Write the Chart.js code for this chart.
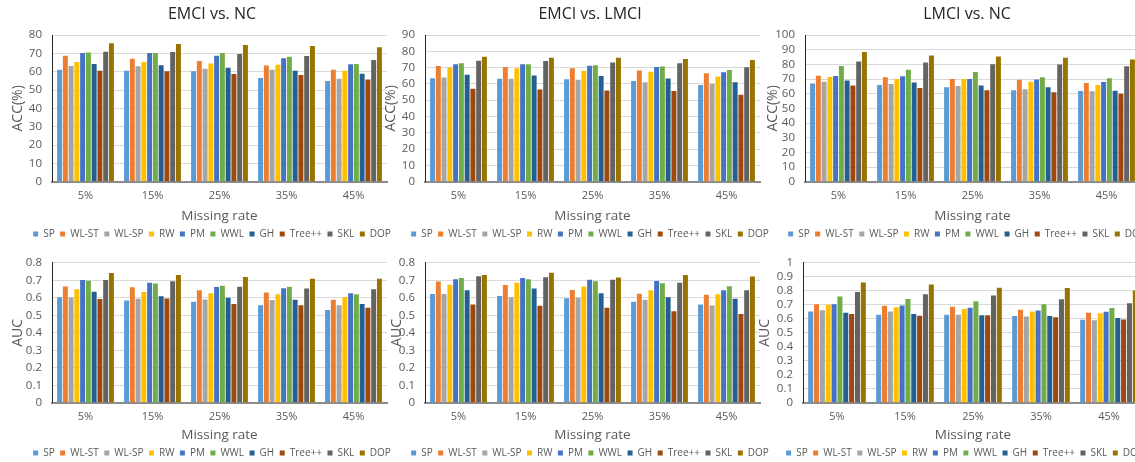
<!DOCTYPE html>
<html>
<head>
<meta charset="utf-8">
<title>Missing rate results</title>
<script src="https://cdn.jsdelivr.net/npm/chart.js@4.4.1/dist/chart.umd.min.js"></script>
<style>
    html, body { margin: 0; padding: 0; background: #ffffff; }
    #page { position: relative; width: 1135px; height: 462px; overflow: hidden; background: #ffffff; }
    #page canvas { position: absolute; }
</style>
</head>
<body>
<div id="page"></div>
<script>
// ---- data ----
const missingRates = ['5%', '15%', '25%', '35%', '45%'];
const methods = ['SP', 'WL-ST', 'WL-SP', 'RW', 'PM', 'WWL', 'GH', 'Tree++', 'SKL', 'DOP'];
const methodColors = ['#5B9BD5', '#ED7D31', '#A5A5A5', '#FFC000', '#4472C4',
                      '#70AD47', '#255E91', '#9E480E', '#636363', '#997300'];

// one row per missing rate, one value per method (same order as `methods`)
const accEmciNc = [
    [61.1, 68.7, 63.1, 65.3, 70.2, 70.5, 64.2, 60.5, 70.9, 75.5],
    [60.5, 67.1, 62.9, 65.3, 70.2, 70.2, 63.5, 60.2, 70.7, 75.1],
    [60.2, 65.8, 61.6, 64.4, 68.7, 70.2, 62.2, 58.7, 69.6, 74.5],
    [56.5, 63.3, 61.1, 63.8, 67.3, 68.2, 60.5, 58.2, 68.5, 74.0],
    [54.9, 61.1, 56.2, 60.5, 64.0, 64.2, 58.9, 55.8, 66.4, 73.3]
];
const accEmciLmci = [
    [63.5, 71.0, 64.0, 70.0, 72.1, 72.7, 65.6, 57.0, 74.2, 76.7],
    [63.1, 70.4, 63.1, 69.6, 72.1, 72.1, 65.2, 56.6, 74.0, 76.1],
    [62.9, 69.6, 62.5, 68.0, 71.1, 71.5, 64.8, 56.0, 73.1, 76.1],
    [61.8, 68.2, 61.0, 67.4, 70.4, 70.6, 63.3, 55.6, 72.7, 75.2],
    [59.4, 66.6, 60.0, 64.6, 67.2, 68.6, 61.0, 53.3, 70.2, 74.6]
];
const accLmciNc = [
    [67.0, 72.3, 68.2, 71.4, 72.0, 78.8, 69.0, 65.5, 82.0, 88.4],
    [66.0, 71.2, 66.6, 70.0, 71.8, 76.3, 67.7, 63.9, 81.3, 86.1],
    [64.4, 70.0, 65.3, 70.0, 70.0, 74.8, 65.6, 62.4, 80.1, 85.4],
    [62.4, 69.5, 63.0, 68.1, 69.7, 71.2, 64.4, 61.0, 79.9, 84.5],
    [61.8, 67.3, 61.6, 66.0, 68.0, 70.5, 62.0, 60.0, 78.7, 83.3]
];
const aucEmciNc = [
    [0.604, 0.665, 0.602, 0.649, 0.702, 0.698, 0.635, 0.593, 0.702, 0.742],
    [0.585, 0.660, 0.595, 0.633, 0.687, 0.682, 0.609, 0.596, 0.695, 0.731],
    [0.578, 0.644, 0.591, 0.626, 0.662, 0.669, 0.600, 0.565, 0.664, 0.720],
    [0.558, 0.631, 0.587, 0.620, 0.655, 0.664, 0.589, 0.558, 0.653, 0.709],
    [0.531, 0.589, 0.558, 0.605, 0.626, 0.620, 0.565, 0.544, 0.649, 0.710]
];
const aucEmciLmci = [
    [0.622, 0.693, 0.622, 0.675, 0.707, 0.713, 0.644, 0.562, 0.724, 0.731],
    [0.611, 0.673, 0.604, 0.687, 0.713, 0.707, 0.653, 0.555, 0.718, 0.744],
    [0.598, 0.645, 0.600, 0.665, 0.704, 0.695, 0.627, 0.544, 0.704, 0.716],
    [0.578, 0.624, 0.589, 0.644, 0.696, 0.684, 0.604, 0.524, 0.687, 0.731],
    [0.562, 0.618, 0.556, 0.620, 0.644, 0.667, 0.595, 0.507, 0.644, 0.722]
];
const aucLmciNc = [
    [0.652, 0.705, 0.662, 0.700, 0.705, 0.760, 0.643, 0.634, 0.792, 0.860],
    [0.630, 0.694, 0.652, 0.682, 0.696, 0.741, 0.634, 0.622, 0.776, 0.845],
    [0.630, 0.687, 0.630, 0.671, 0.680, 0.726, 0.625, 0.625, 0.767, 0.822],
    [0.620, 0.664, 0.616, 0.653, 0.660, 0.705, 0.620, 0.611, 0.740, 0.820],
    [0.594, 0.643, 0.589, 0.640, 0.650, 0.677, 0.605, 0.596, 0.712, 0.803]
];

// y axis ranges: [max, step]
const accAxes = [[80, 10], [90, 10], [100, 10]];
const aucAxes = [[0.8, 0.1], [0.8, 0.1], [1, 0.1]];

// ---- layout (pixels in the 1135x462 page) ----
const LEGEND_HALF = 205;          // half width of the legend/title box
const TEXT_GREY = '#595959';

const panels = [
    { title: 'EMCI vs. NC',   yTitle: 'ACC(%)', rows: accEmciNc,   axis: accAxes[0], top: true,  axisX: 52,  plotRight: 387,  center: 212, yTitleX: 18 },
    { title: 'EMCI vs. LMCI', yTitle: 'ACC(%)', rows: accEmciLmci, axis: accAxes[1], top: true,  axisX: 425, plotRight: 760,  center: 590, yTitleX: 391 },
    { title: 'LMCI vs. NC',   yTitle: 'ACC(%)', rows: accLmciNc,   axis: accAxes[2], top: true,  axisX: 805, plotRight: 1140, center: 967, yTitleX: 773 },
    { title: null,            yTitle: 'AUC',    rows: aucEmciNc,   axis: aucAxes[0], top: false, axisX: 52,  plotRight: 387,  center: 212, yTitleX: 18 },
    { title: null,            yTitle: 'AUC',    rows: aucEmciLmci, axis: aucAxes[1], top: false, axisX: 425, plotRight: 760,  center: 590, yTitleX: 397 },
    { title: null,            yTitle: 'AUC',    rows: aucLmciNc,   axis: aucAxes[2], top: false, axisX: 803, plotRight: 1143, center: 965, yTitleX: 765 }
];

Chart.defaults.font.family = "'Open Sans', 'Noto Sans', sans-serif";
Chart.defaults.color = TEXT_GREY;

/**
 * Build one bar chart panel
 */
function buildPanel(p) {
    const boxLeft = p.center - LEGEND_HALF;
    const boxRight = p.center + LEGEND_HALF;
    const canvasLeft = Math.min(p.axisX - 52, boxLeft);

    const canvas = document.createElement('canvas');
    canvas.width = boxRight - canvasLeft;
    canvas.height = p.top ? 249 : 222;
    canvas.style.left = canvasLeft + 'px';
    canvas.style.top = (p.top ? 0 : 246) + 'px';
    document.getElementById('page').appendChild(canvas);

    const datasets = methods.map(function(name, i) {
        return {
            label: name,
            data: p.rows.map(function(row) { return row[i]; }),
            backgroundColor: methodColors[i],
            borderWidth: 0,
            barPercentage: 0.86,
            categoryPercentage: 0.86
        };
    });

    const yTitleSize = 14;
    const xHeight = p.top ? 41.8 : 39.8;

    return new Chart(canvas, {
        type: 'bar',
        data: { labels: missingRates, datasets: datasets },
        options: {
            responsive: false,
            animation: false,
            layout: {
                padding: { left: boxLeft - canvasLeft, right: 0, top: p.top ? 0 : 10.7, bottom: 0 }
            },
            plugins: {
                title: {
                    display: !!p.title,
                    text: p.title || '',
                    color: '#262626',
                    font: { size: 16, weight: 'normal' },
                    padding: { top: 5, bottom: 10.8 }
                },
                legend: {
                    position: 'bottom',
                    labels: {
                        boxWidth: 5,
                        boxHeight: 5,
                        padding: 5.5,
                        color: TEXT_GREY,
                        font: { size: 10 }
                    }
                },
                tooltip: { enabled: false }
            },
            scales: {
                x: {
                    grid: { display: false, drawTicks: false },
                    border: { display: true, color: '#8c8c8c', width: 2 },
                    ticks: { padding: 7.7, color: TEXT_GREY, font: { size: 11 } },
                    title: {
                        display: true,
                        text: 'Missing rate',
                        color: TEXT_GREY,
                        font: { size: 13.5 },
                        padding: { top: 0, bottom: -0.6 }
                    },
                    afterFit: function(scale) { scale.height = xHeight; }
                },
                y: {
                    min: 0,
                    max: p.axis[0],
                    ticks: {
                        stepSize: p.axis[1],
                        autoSkip: false,
                        padding: 10,
                        color: TEXT_GREY,
                        font: { size: 11.5 },
                        callback: function(value) { return String(+value.toFixed(2)); }
                    },
                    grid: { color: '#d9d9d9', drawTicks: false },
                    border: { display: true, color: '#262626', width: 1 },
                    title: {
                        display: true,
                        text: p.yTitle,
                        color: TEXT_GREY,
                        font: { size: yTitleSize },
                        padding: { top: p.yTitleX - boxLeft - yTitleSize * 0.6, bottom: 0 }
                    },
                    afterFit: function(scale) { scale.width = p.axisX - boxLeft; }
                },
                // empty right-hand spacer so the plot ends where the reference does
                spacer: {
                    type: 'linear',
                    position: 'right',
                    display: true,
                    grid: { display: false, drawTicks: false },
                    border: { display: false },
                    ticks: { display: false },
                    afterFit: function(scale) { scale.width = boxRight - p.plotRight; }
                }
            }
        }
    });
}

window.charts = panels.map(buildPanel);
</script>
</body>
</html>
